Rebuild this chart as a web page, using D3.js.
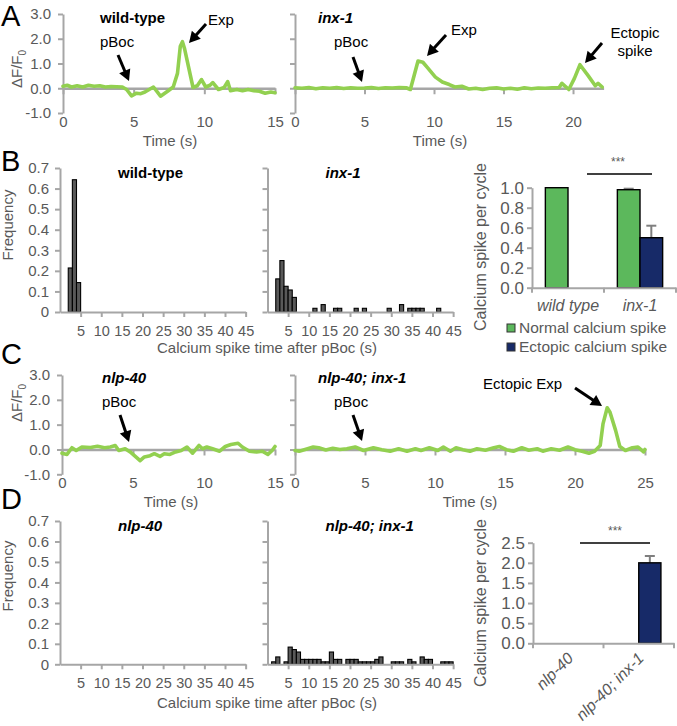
<!DOCTYPE html>
<html><head><meta charset="utf-8">
<script src="https://cdn.jsdelivr.net/npm/d3@7"></script>
<style>body{margin:0;background:#fff}</style>
</head><body><svg id="c" width="677" height="726"></svg>
<script>
// ---------------- DATA ----------------
const wtTime = [0,0.3,0.6,1.0,1.4,1.8,2.2,2.6,3.0,3.4,3.8,4.2,4.5,4.85,5.2,5.5,5.8,6.1,6.4,6.9,7.4,7.8,8.1,8.3,8.45,8.6,9.2,9.5,9.8,10.1,10.4,10.6,11.0,11.4,11.65,11.85,12.3,12.7,13.1,13.5,13.9,14.3,14.7,15.0];
const wtVal  = [0.08,0.12,0.05,0.10,0.05,0.12,0.08,0.10,0.05,0.07,0.06,0.05,-0.05,-0.31,-0.20,-0.22,-0.15,-0.05,0.05,-0.32,-0.12,0.05,0.60,1.70,1.88,1.60,0.03,0.10,0.35,0.05,0.12,0.23,-0.05,0.03,0.27,-0.10,-0.05,-0.10,-0.05,-0.10,-0.12,-0.20,-0.15,-0.18];

const inxTime = [0,0.5,1.0,1.5,2.0,2.5,3.0,3.5,4.0,4.5,5.0,5.5,6.0,6.5,7.0,7.5,8.0,8.3,8.85,9.2,9.5,10.1,10.6,11.1,11.5,12.0,12.5,13.0,13.5,14.0,14.5,15.0,15.5,16.0,16.5,17.0,17.5,18.0,18.5,19.0,19.2,19.7,20.1,20.5,21.1,21.6,21.8,22.1];
const inxVal  = [0.02,0.0,0.03,-0.02,0.02,0.0,0.03,-0.01,0.02,0.0,0.01,0.03,-0.01,0.02,0.01,0.03,0.02,-0.05,1.10,1.05,0.85,0.45,0.25,0.15,0.05,0.08,-0.03,0.0,-0.05,0.0,0.02,-0.03,0.0,-0.04,0.02,-0.02,0.01,0.0,0.02,0.03,0.2,-0.05,0.4,0.95,0.5,0.1,0.2,0.05];

const nlpTime = [0,0.35,0.7,1.0,1.4,2.0,2.5,3.0,3.4,3.75,4.0,4.45,4.8,5.1,5.5,5.8,6.2,6.5,6.9,7.2,7.6,8.0,8.4,8.8,9.2,9.65,9.9,10.2,10.6,11.1,11.5,11.9,12.4,12.7,13.2,13.7,14.1,14.5,14.8,15.0];
const nlpVal  = [-0.15,-0.2,0.07,-0.04,0.1,0.08,0.13,0.07,0.1,0.16,-0.04,0.03,-0.1,-0.25,-0.45,-0.3,-0.25,-0.17,-0.28,-0.17,-0.2,-0.1,-0.04,0.1,-0.15,0.16,0.03,0.1,0.03,-0.07,0.12,0.2,0.25,0.1,-0.07,-0.1,-0.07,-0.2,-0.04,0.12];

const nlpInxTime = [0,0.3,0.9,1.3,1.7,2.2,2.7,3.2,3.7,4.3,4.9,5.6,6.2,6.8,7.4,8.0,8.6,9.0,9.6,10.2,10.6,11.1,11.5,12.0,12.5,13.0,13.6,14.2,14.6,15.1,15.6,16.2,16.7,17.3,17.7,18.3,18.9,19.5,20.0,20.5,21.0,21.4,21.8,22.0,22.3,22.5,22.9,23.2,23.6,24.1,24.5,24.9,25.0];
const nlpInxVal  = [-0.04,-0.07,0.03,0.1,0.07,-0.02,0.05,0.0,0.03,0.1,-0.04,0.07,-0.01,-0.07,0.03,-0.07,0.03,-0.04,0.07,-0.04,0.1,-0.07,0.07,-0.01,-0.07,0.03,-0.03,0.07,0.12,-0.01,-0.07,0.07,-0.03,0.03,-0.07,0.03,-0.03,0.1,-0.01,-0.07,-0.15,-0.07,0.16,1.03,1.68,1.5,0.77,0.12,-0.04,0.07,0.1,-0.1,0.0];

const traceYTicks = [-1,0,1,2,3];
const traceXTicks15 = [0,5,10,15];
const traceXTicks22 = [0,5,10,15,20];
const traceXTicks25 = [0,5,10,15,20,25];

const wtBins = [2,3,4];
const wtFreq = [0.214,0.643,0.143];
const inxBins = [2,3,4,5,6,11,13,16,17,21,23,29,32,34,35,36,37,41];
const inxFreq = [0.161,0.25,0.125,0.107,0.071,0.018,0.036,0.018,0.018,0.018,0.018,0.018,0.036,0.018,0.018,0.018,0.018,0.018];
const nlpBins = [];
const nlpFreq = [];
const nlpInxBins = [1,2,4,5,6,7,8,9,10,11,12,13,14,15,16,17,19,20,21,22,23,24,25,26,27,30,31,32,34,35,37,38,39,42,43,44];
const nlpInxFreq = [0.012,0.036,0.012,0.084,0.072,0.06,0.024,0.024,0.024,0.024,0.024,0.012,0.012,0.06,0.024,0.024,0.024,0.024,0.024,0.012,0.012,0.012,0.012,0.024,0.036,0.012,0.012,0.012,0.024,0.012,0.036,0.024,0.024,0.012,0.012,0.012];
const histXTicks = [5,10,15,20,25,30,35,40,45];
const histYTicks = [0,0.1,0.2,0.3,0.4,0.5,0.6,0.7];

const barBCats = ["wild type","inx-1"];
const barBNormal = [1.0, 0.98];
const barBNormalErr = [0, 0.01];
const barBEctopic = [0, 0.5];
const barBEctopicErr = [0, 0.12];
const barBYTicks = [0,0.2,0.4,0.6,0.8,1.0];

const barDCats = ["nlp-40","nlp-40; inx-1"];
const barDEctopic = [0, 2.0];
const barDEctopicErr = [0, 0.17];
const barDYTicks = [0,0.5,1.0,1.5,2.0,2.5];

const seriesKeys = ["normal","ectopic"];
const legendLabels = ["Normal calcium spike","Ectopic calcium spike"];

// ---------------- STYLE ----------------
const FONT = "'Liberation Sans', Arial, sans-serif";
const AX = "#a6a6a6", TX = "#595959";
const LINEG = "#92d050", BARG = "#5cb85c", NAVY = "#172a68", HIST = "#595959";

const svg = d3.select("#c").style("font-family", FONT);
svg.append("rect").attr("width",677).attr("height",726).attr("fill","#fff");

function txt(x, y, s, o = {}) {
  const t = svg.append("text").attr("x", x).attr("y", y)
    .attr("font-size", o.size || 15).attr("fill", o.fill || "#000")
    .attr("text-anchor", o.anchor || "start")
    .attr("font-weight", o.bold ? "bold" : "normal")
    .attr("font-style", o.italic ? "italic" : "normal");
  if (o.rotate) t.attr("transform", `rotate(${o.rotate},${x},${y})`);
  t.text(s);
  return t;
}
function styleAxis(g, size) {
  g.select(".domain").attr("stroke", AX).attr("stroke-width", 2);
  g.selectAll(".tick line").attr("stroke", AX).attr("stroke-width", 2);
  g.selectAll(".tick text").attr("fill", TX).attr("font-size", size || 14).attr("font-family", FONT);
}
function arrow(x1, y1, x2, y2) {
  const dx = x2 - x1, dy = y2 - y1, L = Math.hypot(dx, dy), ux = dx / L, uy = dy / L;
  const hl = 11, hw = 6;
  const bx = x2 - ux * hl, by = y2 - uy * hl;
  svg.append("line").attr("x1", x1).attr("y1", y1).attr("x2", bx + ux).attr("y2", by + uy)
    .attr("stroke", "#000").attr("stroke-width", 3);
  svg.append("path").attr("d", `M${x2},${y2}L${bx - uy * hw},${by + ux * hw}L${bx + uy * hw},${by - ux * hw}Z`)
    .attr("fill", "#000");
}

// ---------------- TRACE PANELS ----------------
function tracePanel(o) {
  const x = d3.scaleLinear([0, o.tMax], o.xr);
  const y = d3.scaleLinear([-1, 3], o.yr);
  const gy = svg.append("g").attr("transform", `translate(${x(0)},0)`)
    .call(d3.axisLeft(y).tickValues(traceYTicks).tickSize(5).tickSizeOuter(0)
      .tickFormat(o.yLabels ? (d => d.toFixed(1)) : ""));
  styleAxis(gy, 15);
  gy.selectAll(".tick text").attr("x", -12);
  const gx = svg.append("g").attr("transform", `translate(0,${y(0)})`)
    .call(d3.axisBottom(x).tickValues(o.xTicks).tickSize(6).tickSizeOuter(0));
  styleAxis(gx, 15);
  gx.select(".domain").attr("stroke-width", 2.6);
  gx.selectAll(".tick text").attr("y", y(-1) - y(0) + 14).attr("dy", 0);
  const pts = o.t.map((t, i) => [t, o.v[i]]);
  svg.append("path").datum(pts)
    .attr("d", d3.line().x(d => x(d[0])).y(d => y(d[1])))
    .attr("fill", "none").attr("stroke", LINEG).attr("stroke-width", 3.6)
    .attr("stroke-linejoin", "round").attr("stroke-linecap", "round");
  txt(o.titleX, y(-1) + 33, "Time (s)", { fill: TX, anchor: "middle" });
}
tracePanel({ xr: [63, 275], tMax: 15, yr: [113, 14], t: wtTime, v: wtVal, xTicks: traceXTicks15, yLabels: true, titleX: 170 });
tracePanel({ xr: [295, 603.6], tMax: 22.2, yr: [113, 14], t: inxTime, v: inxVal, xTicks: traceXTicks22, yLabels: false, titleX: 440 });
tracePanel({ xr: [62, 275], tMax: 15, yr: [474.3, 375], t: nlpTime, v: nlpVal, xTicks: traceXTicks15, yLabels: true, titleX: 171 });
tracePanel({ xr: [295, 645], tMax: 25, yr: [474.3, 375], t: nlpInxTime, v: nlpInxVal, xTicks: traceXTicks25, yLabels: false, titleX: 470 });

// ΔF/F0 labels
function dff(cx, cy) {
  const t = svg.append("text").attr("transform", `translate(${cx},${cy}) rotate(-90)`)
    .attr("text-anchor", "middle").attr("font-size", 15).attr("fill", TX);
  t.append("tspan").text("ΔF/F");
  t.append("tspan").attr("font-size", 10).attr("dy", 4).text("0");
}
dff(22, 69);
dff(22, 403);

// annotations
txt(100, 23, "wild-type", { bold: true });
txt(100, 47, "pBoc");
txt(208, 25, "Exp");
txt(318, 23, "inx-1", { bold: true, italic: true });
txt(334, 47, "pBoc");
txt(451, 35, "Exp");
txt(635, 38, "Ectopic", { anchor: "middle" });
txt(635, 56, "spike", { anchor: "middle" });
txt(102, 383, "nlp-40", { bold: true, italic: true });
txt(102, 407, "pBoc");
txt(318, 383, "nlp-40; inx-1", { bold: true, italic: true });
txt(334, 407, "pBoc");
txt(483, 389, "Ectopic Exp");
arrow(118, 55, 129, 81);
arrow(206, 24, 189, 43);
arrow(353, 57, 362, 82);
arrow(446, 35, 427, 56);
arrow(602, 43, 585, 63);
arrow(120, 415, 129, 442);
arrow(353, 415, 362, 441);
arrow(575, 388, 602, 406);

// ---------------- HISTOGRAMS ----------------
function histPanel(o) {
  const x = d3.scaleLinear([0, 45], [o.x0, o.x0 + 45 * 4.125]);
  const y = d3.scaleLinear([0, 0.7], [o.y0, o.yTop]);
  svg.append("g").selectAll("rect").data(o.bins.map((b, i) => [b, o.freq[i]])).join("rect")
    .attr("x", d => x(d[0])).attr("width", d => x(d[0] + 1) - x(d[0]))
    .attr("y", d => y(d[1])).attr("height", d => y(0) - y(d[1]))
    .attr("fill", HIST).attr("stroke", "#000").attr("stroke-width", 1.1);
  const gy = svg.append("g").attr("transform", `translate(${x(0)},0)`)
    .call(d3.axisLeft(y).tickValues(histYTicks).tickSize(5).tickSizeOuter(0)
      .tickFormat(o.yLabels ? (d => d === 0 ? "0" : d.toFixed(1)) : ""));
  styleAxis(gy, 15);
  gy.selectAll(".tick text").attr("x", -11);
  const gx = svg.append("g").attr("transform", `translate(0,${y(0)})`)
    .call(d3.axisBottom(x).tickValues(histXTicks).tickSize(5).tickSizeOuter(0));
  styleAxis(gx, 14.5);
  gx.selectAll(".tick text").attr("y", 24).attr("dy", 0);
  txt(o.x0 + 58, o.yTop + 10, o.title, { bold: true, italic: o.italic });
}
histPanel({ x0: 60, y0: 312, yTop: 168, bins: wtBins, freq: wtFreq, yLabels: true, title: "wild-type", italic: false });
histPanel({ x0: 267.5, y0: 312, yTop: 168, bins: inxBins, freq: inxFreq, yLabels: false, title: "inx-1", italic: true });
histPanel({ x0: 60, y0: 664.3, yTop: 521, bins: nlpBins, freq: nlpFreq, yLabels: true, title: "nlp-40", italic: true });
histPanel({ x0: 267.5, y0: 664.3, yTop: 521, bins: nlpInxBins, freq: nlpInxFreq, yLabels: false, title: "nlp-40; inx-1", italic: true });

txt(13, 225, "Frequency", { fill: TX, anchor: "middle", rotate: -90 });
txt(13, 576, "Frequency", { fill: TX, anchor: "middle", rotate: -90 });
txt(267, 353, "Calcium spike time after pBoc (s)", { fill: TX, anchor: "middle" });
txt(267, 708, "Calcium spike time after pBoc (s)", { fill: TX, anchor: "middle" });

// ---------------- BAR CHARTS ----------------
function barPanel(o) {
  const x = d3.scaleBand(o.cats, o.xr);
  const sub = d3.scaleBand(seriesKeys, [0, x.bandwidth()]).paddingOuter(0.59);
  const y = d3.scaleLinear(o.yDom, o.yr);
  o.series.forEach(s => {
    o.cats.forEach((c, i) => {
      const v = s.vals[i];
      if (!v) return;
      const bx = x(c) + sub(s.key), bw = sub.bandwidth();
      if (s.err[i]) {
        const cx = bx + bw / 2;
        svg.append("line").attr("x1", cx).attr("x2", cx).attr("y1", y(v)).attr("y2", y(v + s.err[i]))
          .attr("stroke", "#7f7f7f").attr("stroke-width", 2);
        svg.append("line").attr("x1", cx - 5).attr("x2", cx + 5).attr("y1", y(v + s.err[i])).attr("y2", y(v + s.err[i]))
          .attr("stroke", "#7f7f7f").attr("stroke-width", 2);
      }
      svg.append("rect").attr("x", bx).attr("width", bw).attr("y", y(v)).attr("height", y(0) - y(v))
        .attr("fill", s.color).attr("stroke", "#000").attr("stroke-width", 1.4);
    });
  });
  const gy = svg.append("g").attr("transform", `translate(${o.xr[0]},0)`)
    .call(d3.axisLeft(y).tickValues(o.yTicks).tickSize(5).tickSizeOuter(0).tickFormat(d => d.toFixed(1)));
  styleAxis(gy, 17);
  gy.selectAll(".tick text").attr("x", -8);
  const gx = svg.append("g").attr("transform", `translate(0,${y(0)})`)
    .call(d3.axisBottom(x).tickSize(0).tickSizeOuter(0));
  styleAxis(gx, 16);
  gx.selectAll(".tick text").attr("font-style", "italic");
  const edges = o.cats.map(c => x(c)).concat([o.xr[1]]);
  svg.append("g").selectAll("line").data(edges).join("line")
    .attr("x1", d => d).attr("x2", d => d).attr("y1", y(0)).attr("y2", y(0) + 5)
    .attr("stroke", AX).attr("stroke-width", 2);
  return { x, y, gx };
}
const bB = barPanel({
  cats: barBCats, xr: [532, 676], yDom: [0, 1], yr: [287.7, 187.7], yTicks: barBYTicks,
  series: [{ key: "normal", vals: barBNormal, err: barBNormalErr, color: BARG },
           { key: "ectopic", vals: barBEctopic, err: barBEctopicErr, color: NAVY }]
});
bB.gx.selectAll(".tick text").attr("y", 23).attr("dy", 0);

const bD = barPanel({
  cats: barDCats, xr: [533, 674], yDom: [0, 2.5], yr: [643.3, 542.7], yTicks: barDYTicks,
  series: [{ key: "ectopic", vals: barDEctopic, err: barDEctopicErr, color: NAVY }]
});
bD.gx.selectAll(".tick text").attr("text-anchor", "end").attr("dy", 0).attr("y", 0)
  .attr("transform", "translate(6,16) rotate(-45)");

// significance bars
svg.append("line").attr("x1", 587).attr("x2", 652).attr("y1", 174).attr("y2", 174).attr("stroke", "#000").attr("stroke-width", 1.5);
txt(618, 166, "***", { size: 12, fill: TX, anchor: "middle" });
svg.append("line").attr("x1", 580).attr("x2", 650).attr("y1", 543).attr("y2", 543).attr("stroke", "#000").attr("stroke-width", 1.5);
txt(615, 535, "***", { size: 12, fill: TX, anchor: "middle" });

txt(486, 247, "Calcium spike per cycle", { fill: TX, anchor: "middle", rotate: -90, size: 16 });
txt(486, 603, "Calcium spike per cycle", { fill: TX, anchor: "middle", rotate: -90, size: 16 });

// legend
[BARG, NAVY].forEach((c, i) => {
  svg.append("rect").attr("x", 507).attr("y", 324 + i * 19).attr("width", 8).attr("height", 8)
    .attr("fill", c).attr("stroke", "#333").attr("stroke-width", 1);
  txt(519, 333 + i * 19, legendLabels[i], { fill: TX, size: 15.5 });
});

// panel letters
txt(1, 26, "A", { size: 29 });
txt(1, 171, "B", { size: 29 });
txt(1, 364, "C", { size: 29 });
txt(1, 509, "D", { size: 29 });
</script>
</body></html>
